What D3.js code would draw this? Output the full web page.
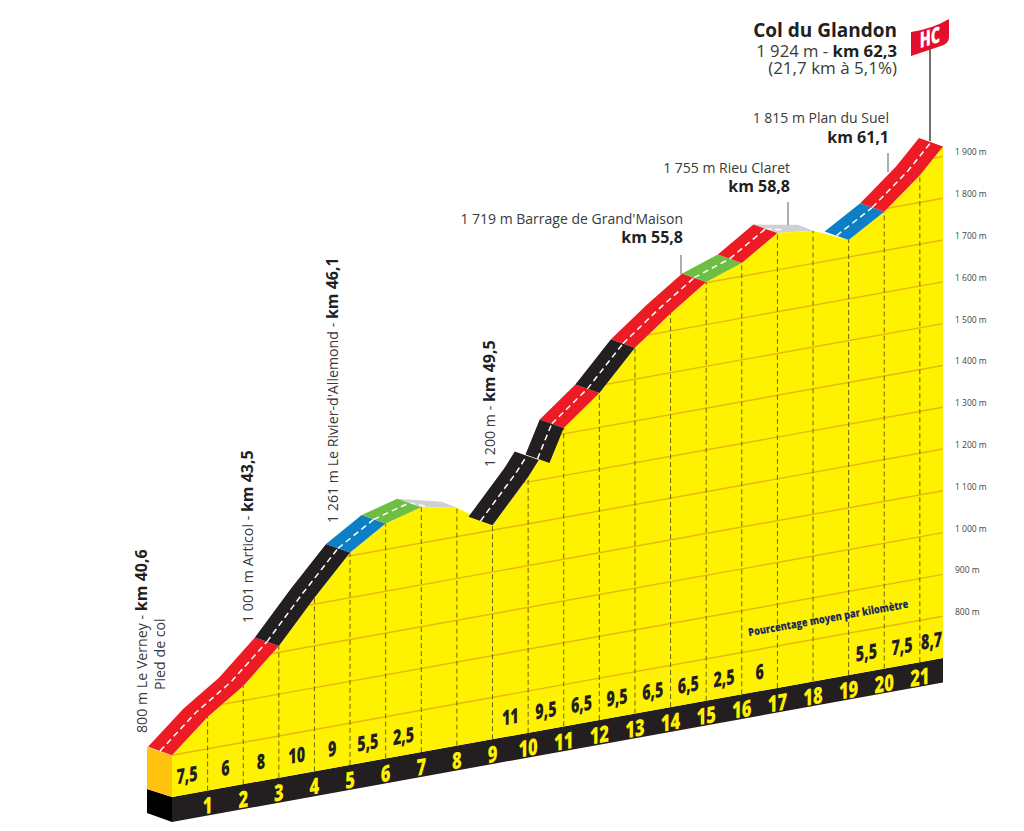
<!DOCTYPE html>
<html>
<head>
<meta charset="utf-8">
<script src="https://cdn.jsdelivr.net/npm/d3@7"></script>
<style>
  html, body { margin: 0; background: #fff; }
  svg { display: block; }
  text { font-family: 'Open Sans', sans-serif; fill: #3a3a3a; }
  .num { font-weight: 800; text-anchor: middle; dominant-baseline: central; }
</style>
</head>
<body>
<div id="chart"></div>
<script>
// profile
const profileKm = [0, 1, 2, 3, 4, 5, 6, 7, 8, 9, 10, 10.3, 11, 12, 13, 14, 15, 16, 17, 18, 19, 20, 21, 21.65]
const profileElev = [800, 876, 935, 1015, 1115, 1208, 1262, 1286, 1269, 1212, 1312, 1348, 1414, 1482, 1575, 1642, 1702, 1732, 1788, 1778, 1741, 1793, 1865, 1924]

const kmTicks = [1, 2, 3, 4, 5, 6, 7, 8, 9, 10, 11, 12, 13, 14, 15, 16, 17, 18, 19, 20, 21]

// average percentage per km
const percentKm = [0.42, 1.5, 2.5, 3.5, 4.5, 5.5, 6.5, 9.5, 10.5, 11.5, 12.5, 13.5, 14.5, 15.5, 16.5, 19.5, 20.5, 21.33]
const percentLabels = ['7,5', '6', '8', '10', '9', '5,5', '2,5', '11', '9,5', '6,5', '9,5', '6,5', '6,5', '2,5', '6', '5,5', '7,5', '8,7']

// coloured road pieces
const roadFrom = [0, 3, 5, 6, 9, 11, 12, 13, 15, 16, 19, 20]
const roadTo = [3, 5, 6, 7, 10.3, 12, 13, 15, 16, 17, 20, 21.65]
const roadClass = ['red', 'black', 'blue', 'green', 'black', 'red', 'black', 'red', 'green', 'red', 'blue', 'red']

// the short offset ramp before km 11
const stepKm = [10.6, 11]
const stepElev = [1336, 1414]

// flat grey tops
const flatFrom = [7, 17]
const flatTo = [8, 18]

const elevTicks = [800, 900, 1000, 1100, 1200, 1300, 1400, 1500, 1600, 1700, 1800, 1900]

const width = 1024
const height = 831
const rise = 139 / 771 // the whole chart leans up to the right
const roadDx = -24
const roadDy = -8.5

const svg = d3
  .select('#chart')
  .append('svg')
  .attr('width', width)
  .attr('height', height)

const xPositionScale = d3.scaleLinear().domain([0, 21.65]).range([172, 943])
const heightScale = d3.scaleLinear().domain([700, 1924]).range([0, 511.6])
const roadColor = d3
  .scaleOrdinal()
  .domain(['red', 'black', 'blue', 'green'])
  .range(['#ed1c24', '#231f20', '#0d7fc6', '#6fbe44'])

function baseY(km) {
  return 797 - rise * (xPositionScale(km) - 172)
}
function yAt(km, elev) {
  return baseY(km) - heightScale(elev)
}
function elevAt(km) {
  return profileElev[profileKm.indexOf(km)]
}
function pointsBetween(from, to) {
  return profileKm
    .map((km, i) => [xPositionScale(km), yAt(km, profileElev[i]), km])
    .filter(p => p[2] >= from && p[2] <= to)
    .map(p => [p[0], p[1]])
}
const line = d3.line()

// bottom strip and left faces
svg.append('path')
  .attr('d', line([[147, 789], [172, 797], [172, 822], [147, 813]]) + 'Z')
  .attr('fill', '#000')
svg.append('path')
  .attr('d', line([[172, 797], [943, 658], [943, 682.5], [172, 822]]) + 'Z')
  .attr('fill', '#231f20')
svg.append('path')
  .attr('d', line([[147, 747], [172, 755.5], [172, 797], [147, 789]]) + 'Z')
  .attr('fill', '#ffc20e')

// grey flats sit behind the yellow
flatFrom.forEach((from, i) => {
  const a = [xPositionScale(from), yAt(from, elevAt(from))]
  const b = [xPositionScale(flatTo[i]), yAt(flatTo[i], elevAt(flatTo[i]))]
  const topStart = [a[0] + roadDx, a[1] + roadDy]
  const topEnd = [b[0] - 15, b[1] - 6]
  svg.append('path')
    .attr('d', line([a, topStart, topEnd, b]) + 'Z')
    .attr('fill', '#cfd0d2')
  svg.append('path')
    .attr('d', line([[a[0] - 12, a[1] - 4], [b[0] - 28, b[1] - 1]]))
    .attr('stroke', '#fff')
    .attr('stroke-width', 1.5)
    .attr('stroke-dasharray', '6,4')
    .attr('fill', 'none')
})

// yellow face
const facePoints = pointsBetween(0, 21.65)
  .concat([[xPositionScale(21.65), baseY(21.65)], [xPositionScale(0), baseY(0)]])
svg.append('clipPath')
  .attr('id', 'face')
  .append('path')
  .attr('d', line(facePoints) + 'Z')
svg.append('path')
  .attr('d', line(facePoints) + 'Z')
  .attr('fill', '#fff200')

// elevation lines
svg.append('g')
  .attr('clip-path', 'url(#face)')
  .selectAll('line')
  .data(elevTicks)
  .enter()
  .append('line')
  .attr('x1', xPositionScale(0))
  .attr('x2', xPositionScale(21.65))
  .attr('y1', d => yAt(0, d))
  .attr('y2', d => yAt(21.65, d))
  .attr('stroke', '#e6b70f')
  .attr('stroke-width', 1.4)

// km dashes
svg.append('g')
  .selectAll('line')
  .data(kmTicks)
  .enter()
  .append('line')
  .attr('x1', d => xPositionScale(d))
  .attr('x2', d => xPositionScale(d))
  .attr('y1', d => baseY(d))
  .attr('y2', d => yAt(d, elevAt(d)))
  .attr('stroke', '#6f6400')
  .attr('stroke-width', 1)
  .attr('stroke-dasharray', '5,3')

function drawRoad(lower, color) {
  const upper = lower.map(p => [p[0] + roadDx, p[1] + roadDy]).reverse()
  const middle = lower.map(p => [p[0] + roadDx / 2, p[1] + roadDy / 2])
  svg.append('path')
    .attr('d', line(lower.concat(upper)) + 'Z')
    .attr('fill', color)
  svg.append('path')
    .attr('d', line(middle))
    .attr('stroke', '#fff')
    .attr('stroke-width', 1.5)
    .attr('stroke-dasharray', '6,4')
    .attr('fill', 'none')
}

roadFrom.forEach((from, i) => {
  drawRoad(pointsBetween(from, roadTo[i]), roadColor(roadClass[i]))
})
drawRoad(stepKm.map((km, i) => [xPositionScale(km), yAt(km, stepElev[i])]), roadColor('black'))

// km numbers and percentages
function leaning(x, y, sx) {
  return `translate(${x},${y}) skewY(-10) scale(${sx},1)`
}
svg.append('g')
  .selectAll('text')
  .data(kmTicks)
  .enter()
  .append('text')
  .attr('class', 'num')
  .attr('transform', d => leaning(xPositionScale(d), baseY(d) + 14, 0.72))
  .attr('font-size', 23)
  .style('fill', '#fff200')
  .text(d => d)

svg.append('g')
  .selectAll('text')
  .data(percentLabels)
  .enter()
  .append('text')
  .attr('class', 'num')
  .attr('transform', (d, i) => leaning(xPositionScale(percentKm[i]), baseY(percentKm[i]) - 20, 0.68))
  .attr('font-size', 21)
  .style('fill', '#231f20')
  .text(d => d)

svg.append('text')
  .attr('transform', 'translate(829,622) rotate(-10.2) scale(0.82,1)')
  .attr('text-anchor', 'middle')
  .attr('font-size', 11.2)
  .attr('font-weight', 800)
  .style('fill', '#1c2a5e')
  .text('Pourcentage moyen par kilomètre')

// right axis
const axisScale = d3.scaleLinear().domain([800, 1900]).range([612, 152])
const y_axis = d3
  .axisRight(axisScale)
  .tickValues(elevTicks)
  .tickSize(0)
  .tickFormat(d => d3.format(',')(d).replace(',', ' ') + ' m')
svg.append('g')
  .attr('class', 'axis y-axis')
  .attr('transform', 'translate(952,0)')
  .call(y_axis)
svg.selectAll('.y-axis path').attr('stroke', 'none')
svg.selectAll('.y-axis text')
  .attr('font-size', 8.5)
  .attr('font-family', "'Open Sans', sans-serif")
  .style('fill', '#444')

// horizontal place names
function twoLine(x, y1, y2, first, second, lx, ly1, ly2) {
  svg.append('text').attr('x', x).attr('y', y1).attr('text-anchor', 'end').attr('font-size', 14).text(first)
  svg.append('text').attr('x', x).attr('y', y2).attr('text-anchor', 'end').attr('font-size', 16)
    .attr('font-weight', 700).style('fill', '#231f20').text(second)
  svg.append('line').attr('x1', lx).attr('x2', lx).attr('y1', ly1).attr('y2', ly2)
    .attr('stroke', '#333').attr('stroke-width', 0.8)
}
twoLine(889, 123, 143, '1 815 m Plan du Suel', 'km 61,1', 888, 153, 172)
twoLine(790, 173, 192, '1 755 m Rieu Claret', 'km 58,8', 788, 202, 225)
twoLine(683, 224, 243, "1 719 m Barrage de Grand'Maison", 'km 55,8', 681, 255, 274)

// vertical place names
function upright(x, y, plain, bold) {
  const t = svg.append('text')
    .attr('transform', `translate(${x},${y}) rotate(-90)`)
    .attr('font-size', 14.2)
  t.append('tspan').text(plain)
  if (bold) {
    t.append('tspan').attr('font-weight', 700).attr('font-size', 16).style('fill', '#231f20').text(bold)
  }
}
upright(147, 733, '800 m Le Verney - ', 'km 40,6')
upright(165, 690, 'Pied de col')
upright(253, 623, '1 001 m Articol - ', 'km 43,5')
upright(338, 523, "1 261 m Le Rivier-d'Allemond - ", 'km 46,1')
upright(495, 467, '1 200 m - ', 'km 49,5')

// summit
svg.append('text').attr('x', 897).attr('y', 37).attr('text-anchor', 'end')
  .attr('font-size', 19).attr('font-weight', 700).style('fill', '#231f20').text('Col du Glandon')
const sub = svg.append('text').attr('x', 897).attr('y', 57).attr('text-anchor', 'end').attr('font-size', 16.7)
sub.append('tspan').text('1 924 m - ')
sub.append('tspan').attr('font-weight', 700).style('fill', '#231f20').text('km 62,3')
svg.append('text').attr('x', 897).attr('y', 74).attr('text-anchor', 'end').attr('font-size', 17).text('(21,7 km à 5,1%)')

svg.append('line').attr('x1', 930).attr('x2', 930).attr('y1', 48).attr('y2', 141)
  .attr('stroke', '#333').attr('stroke-width', 1.4)
svg.append('path')
  .attr('d', 'M911,32 Q932,29 949,19 L949,38 Q948,44 941,46 L911,56 Z')
  .attr('fill', '#e30f2d')
svg.append('text')
  .attr('transform', 'translate(930,45) skewY(-17) scale(0.66,1)')
  .attr('text-anchor', 'middle')
  .attr('font-size', 22)
  .attr('font-weight', 800)
  .style('fill', '#fff')
  .text('HC')
</script>
</body>
</html>
